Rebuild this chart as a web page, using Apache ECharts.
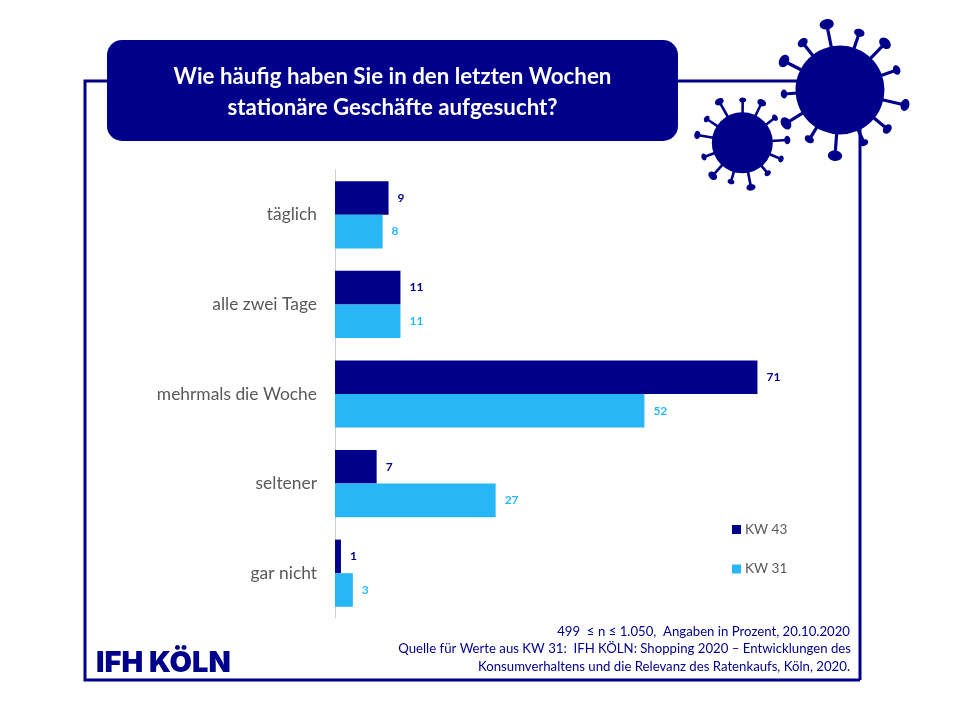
<!DOCTYPE html>
<html><head><meta charset="utf-8">
<style>html,body{margin:0;padding:0;background:#fff}#c{width:960px;height:720px}</style>
<script src="https://cdn.jsdelivr.net/npm/echarts@6/dist/echarts.min.js"></script>
</head><body><div id="c"></div>
<script>
const categories = ['täglich','alle zwei Tage','mehrmals die Woche','seltener','gar nicht'];
const kw43 = [9,11,71,7,1];
const kw31 = [8,11,52,27,3];
const titleLines = ['Wie häufig haben Sie in den letzten Wochen','stationäre Geschäfte aufgesucht?'];
const sourceLines = ['499  ≤ n ≤ 1.050,  Angaben in Prozent, 20.10.2020','Quelle für Werte aus KW 31:  IFH KÖLN: Shopping 2020 – Entwicklungen des','Konsumverhaltens und die Relevanz des Ratenkaufs, Köln, 2020.'];
const NAVY='#00008b', SKY='#29b6f6', FONT='Lato, "Open Sans", sans-serif';

// decoration: virus spike heads [x, y, size] in page pixels
const bigHeads=[[826.7,24.3,6.5],[859.3,32.7,4.8],[885,43.3,6],[896.7,70,4.5],[905,105,5.5],[887.3,129,4.8],[864,142.7,4],[835,155.7,6.5],[809.3,139.3,4.5],[786,123.3,6],[784,94,4],[784,61,6],[802.7,42.7,5]];
const smallHeads=[[719.3,101.7,4.2],[742.7,100,3.2],[761.7,102.7,4.2],[775,117.7,3.2],[787.3,140,3.8],[781,159,3.2],[767.7,173.3,3.2],[751,187.3,4.2],[731,181.7,3.2],[712.7,175.7,4.5],[704,157,3.2],[697.3,135,3.8],[706.7,119,3.2]];
function virus(cx,cy,r,heads,lw){
  const out=[];
  heads.forEach(h=>{
    const a=Math.atan2(h[1]-cy,h[0]-cx);
    out.push({type:'line',shape:{x1:cx,y1:cy,x2:h[0],y2:h[1]},style:{stroke:NAVY,lineWidth:lw},z:5});
    out.push({type:'ellipse',x:h[0],y:h[1],rotation:-a,shape:{cx:0,cy:0,rx:h[2]*0.8,ry:h[2]*1.1},style:{fill:NAVY},z:5});
  });
  out.push({type:'circle',shape:{cx,cy,r},style:{fill:NAVY},z:5});
  return out;
}
const chart=echarts.init(document.getElementById('c'));
const L=84,T=81,R=860,B=680;
chart.setOption({
  animation:false,
  backgroundColor:'#fff',
  textStyle:{fontFamily:FONT},
  legend:{orient:'vertical',left:727,top:517.5,itemWidth:9,itemHeight:9,itemGap:25.5,icon:'rect',
    data:['KW 43','KW 31'],
    textStyle:{fontFamily:FONT,fontSize:13.6,color:'#595959',padding:[0,0,0,-1]}},
  grid:{left:335,top:170,width:476,height:448},
  xAxis:{type:'value',min:0,max:80,show:false},
  yAxis:{type:'category',inverse:true,data:categories,
    axisLine:{show:true,onZero:false,lineStyle:{color:'#d0d0d0',width:1}},
    axisTick:{show:false},
    axisLabel:{fontFamily:FONT,fontSize:17.4,color:'#595959',margin:18}},
  series:[
    {name:'KW 43',type:'bar',data:kw43,barWidth:'37.5%',barGap:'0%',itemStyle:{color:NAVY},
      label:{show:true,position:'right',distance:9,fontFamily:FONT,fontSize:12,fontWeight:'bold',color:NAVY}},
    {name:'KW 31',type:'bar',data:kw31,barWidth:'37.5%',barGap:'0%',itemStyle:{color:SKY},
      label:{show:true,position:'right',distance:9,fontFamily:FONT,fontSize:12,fontWeight:'bold',color:SKY}}
  ],
  graphic:[
    {type:'polyline',shape:{points:[[R,B],[L+1,B],[L+1,T],[R,T],[R,B]]},style:{stroke:NAVY,lineWidth:3,fill:null},z:1},
    {type:'rect',shape:{x:107,y:40,width:571,height:101,r:15},style:{fill:NAVY},z:3},
    {type:'text',x:392.5,y:77,style:{text:titleLines[0],fill:'#fff',font:'bold 22.3px '+FONT,align:'center',verticalAlign:'middle'},z:4},
    {type:'text',x:392.5,y:108,style:{text:titleLines[1],fill:'#fff',font:'bold 22.3px '+FONT,align:'center',verticalAlign:'middle'},z:4},
    ...virus(840,90,44.5,bigHeads,3.2),
    ...virus(742.3,142.7,30.5,smallHeads,2.6),
    {type:'text',x:96,y:663,style:{text:'IFH KÖLN',fill:NAVY,font:'900 29px Inter, Roboto, sans-serif',align:'left',verticalAlign:'middle'},z:4},
    {type:'text',x:850,y:632,style:{text:sourceLines[0],fill:NAVY,font:'13.2px '+FONT,align:'right',verticalAlign:'middle'},z:4},
    {type:'text',x:851,y:649,style:{text:sourceLines[1],fill:NAVY,font:'13.2px '+FONT,align:'right',verticalAlign:'middle'},z:4},
    {type:'text',x:850,y:667,style:{text:sourceLines[2],fill:NAVY,font:'13.2px '+FONT,align:'right',verticalAlign:'middle'},z:4}
  ]
});
</script></body></html>
